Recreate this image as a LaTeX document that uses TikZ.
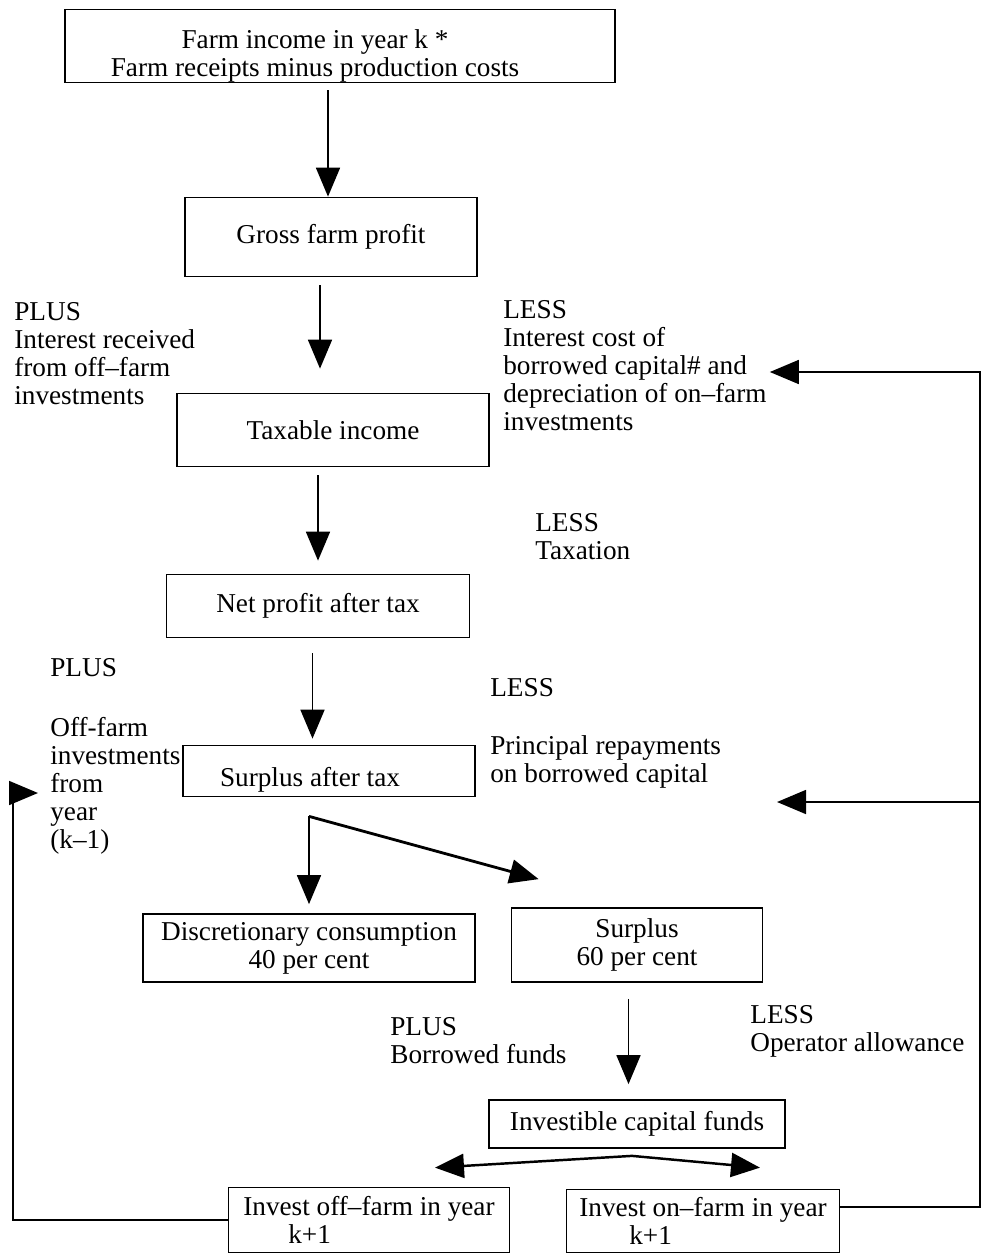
\documentclass[tikz,border=0pt]{standalone}
\usepackage{fontspec}
\setmainfont{Liberation Serif}
\usetikzlibrary{arrows.meta}

\begin{document}
\begin{tikzpicture}[
	x=0.02cm, y=-0.02cm,
	font=\fontsize{15.5}{15.9}\selectfont,
	box/.style={ draw, line width=1pt, align=center, inner sep=0pt },
	note/.style={ anchor=north west, align=left, inner sep=0pt },
	arr/.style={ line width=1pt, -{Triangle[length=0.58cm,width=0.48cm]} }
]
\useasboundingbox (0,0) rectangle (986,1254);

\node at (340,46) (income) [box,minimum width=11cm,minimum height=1.46cm,
  label={[align=center,xshift=-0.5cm,yshift=-0.2cm]center:Farm income in year k *\\Farm receipts minus production costs}] {};
\node at (331,237) (gross) [box,minimum width=5.84cm,minimum height=1.58cm] {Gross farm profit};
\node at (333,430) (taxable) [box,minimum width=6.24cm,minimum height=1.46cm] {Taxable income};
\node at (318,606) (netprofit) [box,minimum width=6.06cm,minimum height=1.26cm] {Net profit after tax};
\node at (329,771) (surplustax) [box,minimum width=5.84cm,minimum height=1.02cm,
  label={[xshift=-0.38cm,yshift=-0.18cm]center:Surplus after tax}] {};
\node at (309,948) (consume) [box,minimum width=6.64cm,minimum height=1.36cm] {Discretionary consumption\\40 per cent};
\node at (637,945) (surplus) [box,minimum width=5.02cm,minimum height=1.48cm] {Surplus\\60 per cent};
\node at (637,1124) (funds) [box,minimum width=5.92cm,minimum height=0.96cm] {Investible capital funds};
\node at (369,1220) (offfarm) [box,minimum width=5.62cm,minimum height=1.3cm,align=left] {Invest off--farm in year\\\hspace*{0.9cm}k+1};
\node at (703,1221) (onfarm) [box,minimum width=5.46cm,minimum height=1.26cm,align=left] {Invest on--farm in year\\\hspace*{1.0cm}k+1};

\node at (14,302) (plusint) [note] {PLUS\\Interest received\\from off--farm\\investments};
\node at (503,300) (lessint) [note] {LESS\\Interest cost of\\borrowed capital\# and\\depreciation of on--farm\\investments};
\node at (535,513) (lesstax) [note] {LESS\\Taxation};
\node at (50,658) (plusoff) [note] {PLUS};
\node at (50,717) (offprev) [note] {Off-farm\\investments\\from\\year\\(k--1)};
\node at (490,678) (lessprin) [note] {LESS};
\node at (490,735) (principal) [note] {Principal repayments\\on borrowed capital};
\node at (390,1017) (plusborrow) [note] {PLUS\\Borrowed funds};
\node at (750,1005) (lessop) [note] {LESS\\Operator allowance};

\coordinate (split) at ([yshift=-0.38cm]surplustax.south -| consume.north);
\coordinate (surtip) at ([shift={(0.56cm,0.56cm)}]surplus.north west);
\coordinate (fork) at ([shift={(-0.1cm,-0.14cm)}]funds.south);
\coordinate (offtip) at ([shift={(1.32cm,0.38cm)}]offfarm.north);
\coordinate (ontip) at ([shift={(1.14cm,0.42cm)}]onfarm.north);
\coordinate (rtop) at (980,372);
\coordinate (rmid) at (980,802);
\coordinate (lup) at (13,793);

\draw[arr,shorten <=0.14cm] ([xshift=-0.06cm]gross.north |- income.south) to ([xshift=-0.06cm]gross.north);
\draw[arr,shorten <=0.16cm,shorten >=0.48cm] ([xshift=-0.22cm]gross.south) to ([xshift=-0.22cm]gross.south |- taxable.north);
\draw[arr,shorten <=0.16cm,shorten >=0.26cm] (netprofit.north |- taxable.south) to (netprofit.north);
\draw[arr,shorten <=0.3cm,shorten >=0.12cm] ([xshift=-0.11cm]netprofit.south) to ([xshift=-0.11cm]netprofit.south |- surplustax.north);
\draw[arr,shorten >=0.18cm] (split) to (consume.north);
\draw[arr,line width=1.6pt] (split) to (surtip);
\draw[arr,shorten <=0.32cm,shorten >=0.3cm] ([xshift=-0.17cm]surplus.south) to ([xshift=-0.17cm]surplus.south |- funds.north);
\draw[arr,line width=1.4pt] (fork) to (offtip);
\draw[arr,line width=1.4pt] (fork) to (ontip);
\draw[arr] ([yshift=0.28cm]onfarm.east) -| (rtop) to ([xshift=0.06cm]rtop -| lessint.east);
\draw[arr] (rmid) to ([xshift=-4.06cm]rmid);
\draw[arr] (offfarm.west) -| (lup) to ([xshift=0.5cm]lup);

\end{tikzpicture}
\end{document}
